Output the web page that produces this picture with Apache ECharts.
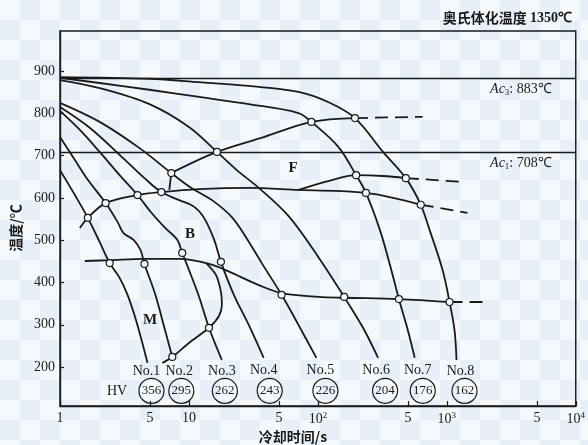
<!DOCTYPE html>
<html lang="zh-CN">
<head>
<meta charset="utf-8">
<title>CCT</title>
<script src="https://cdn.jsdelivr.net/npm/echarts@6.0.0/dist/echarts.min.js"></script>
<style>
  html, body { margin: 0; padding: 0; }
  body {
    width: 588px; height: 445px; overflow: hidden;
    background-color: #f5f9fc;
    background-image: conic-gradient(#e7eff8 25%, transparent 0 50%, #e7eff8 0 75%, transparent 0);
    background-size: 40px 40px;
  }
  #chart { width: 588px; height: 445px; }
</style>
</head>
<body>
<div id="chart"></div>
<script>
// Continuous cooling curves, each point is [time / s, temperature / °C]
const no1 = [[1,666],[1.305,607],[1.644,553],[2.03,496],[2.43,446],[2.90,411],[3.34,371],[3.78,323],[4.29,264],[4.77,210]];
const no2 = [[1,744],[1.305,690],[1.644,643],[2.26,588],[2.80,543],[3.11,517],[3.72,501],[4.21,477],[4.52,444],[5.49,371],[6.45,293],[7.43,224]];
const no3 = [[1,806],[1.426,761],[2.03,709],[2.90,654],[3.99,607],[5.12,565],[6.45,531],[8.12,501],[8.87,470],[10.0,430],[12.0,366],[14.3,293],[18.0,217]];
const no4 = [[1,815],[1.70,766],[2.90,702],[4.52,647],[6.11,614],[8.41,595],[11.0,579],[13.1,553],[15.7,501],[17.7,449],[22.3,371],[29.1,300],[38.0,222]];
const no5 = [[1,825],[2.03,780],[4.14,718],[7.30,659],[10.4,624],[15.1,595],[21.5,555],[27.6,508],[36.7,446],[52.3,371],[70.7,300],[97.4,222]];
const no6 = [[1,879],[2.03,860],[4.94,822],[10.0,768],[16.5,709],[23.5,666],[34.8,624],[59.3,557],[101,460],[160,366],[224,293],[293,222]];
const no7 = [[1,884],[2.03,872],[4.94,856],[12.0,839],[29.1,822],[70.7,801],[89.1,780],[144,721],[198,654],[236,612],[303,524],[362,442],[425,361],[498,288],[564,222]];
const no8 = [[1,886],[4.94,882],[12.0,874],[29.1,865],[70.7,851],[120,827],[194,789],[320,709],[481,647],[628,584],[736,524],[927,430],[1050,354],[1147,288],[1189,217]];

// Transformation lines
const ferriteRise = [[7.04,619],[7.30,659]];
const ferriteStart = [[7.30,659],[16.5,709],[38.0,744],[89.1,780],[194,789]];
const ferriteTail = [[194,789],[650,792]];
const pearliteLine = [[1.426,529],[1.644,553],[2.26,588],[3.99,607],[6.11,614],[12.0,621],[29.1,624],[70.7,619],[236,612],[628,584]];
const pearliteTail = [[628,584],[1445,565]];
const pearliteUpper = [[70.7,619],[120,640],[198,654],[320,652],[481,647]];
const pearliteUpperTail = [[481,647],[1322,638]];
const bainiteLine = [[1.558,451],[2.43,453],[4.52,456],[8.41,456],[14.3,444],[21.5,423],[34.8,394],[52.3,375],[101,366],[160,364],[425,361],[1050,354]];
const bainiteTail = [[1050,354],[2135,354]];
const martensiteLine = [[13.6,446],[16.2,418],[17.7,378],[18.0,347],[17.1,321],[14.3,293],[10.0,257],[7.43,224],[6.22,210]];

// Measured transformation points
const transitionPoints = [
  [7.30,659],[16.5,709],[89.1,780],[194,789],
  [1.644,553],[2.26,588],[3.99,607],[6.11,614],[198,654],[481,647],[236,612],[628,584],
  [2.43,446],[4.52,444],[8.87,470],[17.7,449],[52.3,371],[160,366],[425,361],[1050,354],
  [14.3,293],[7.43,224]
];

const sampleNames = ['No.1','No.2','No.3','No.4','No.5','No.6','No.7','No.8'];
const hardnessHV = [356, 295, 262, 243, 226, 204, 176, 162];
const ac3Temp = 883;
const ac1Temp = 708;
const austenitizingTemp = 1350;
const xTickValues = [1, 5, 10, 50, 100, 500, 1000, 5000, 10000];
const yTickValues = [200, 300, 400, 500, 600, 700, 800, 900];

const INK = '#1a1a1a';
const SERIF = '"Liberation Serif","Times New Roman",serif';
const CJK = '"Noto Sans CJK SC","Noto Sans CJK JP",sans-serif';

const chart = echarts.init(document.getElementById('chart'), null, { renderer: 'canvas' });

function line(data, opts) {
  return Object.assign({
    type: 'line', data: data, showSymbol: false, symbol: 'none',
    smooth: 0.35, silent: true, animation: false, z: 3,
    lineStyle: { color: INK, width: 1.8 }
  }, opts || {});
}
function dashed(data) {
  return line(data, { smooth: false, lineStyle: { color: INK, width: 1.8, type: [13, 7] } });
}

function timeLabel(v) {
  const e = Math.floor(Math.log10(v) + 1e-9);
  const m = Math.round(v / Math.pow(10, e));
  if (m === 1) return e <= 1 ? String(Math.round(v)) : '10{sup|' + e + '}';
  return String(m);
}

const coolingCurves = [no1, no2, no3, no4, no5, no6, no7, no8];

const acRich = {
  it: { fontFamily: SERIF, fontStyle: 'italic', fontSize: 14, color: INK },
  sub: { fontFamily: SERIF, fontSize: 9, color: INK, padding: [7, 0, 0, 0] },
  n: { fontFamily: SERIF, fontSize: 14, color: INK }
};

const series = coolingCurves.map(c => line(c));
series[7].markLine = {
  silent: true, symbol: ['none', 'none'], animation: false,
  lineStyle: { color: INK, width: 1.4, type: 'solid' },
  label: { show: true, position: 'insideEndBottom', distance: 3, padding: [0, 21, 0, 0], rich: acRich },
  data: [
    { yAxis: ac3Temp, label: { formatter: '{it|Ac}{sub|3}{n|: ' + ac3Temp + '℃}' } },
    { yAxis: ac1Temp, label: { formatter: '{it|Ac}{sub|1}{n|: ' + ac1Temp + '℃}' } }
  ]
};
series.push(
  line(ferriteRise, { smooth: false }),
  line(ferriteStart),
  dashed(ferriteTail),
  line(pearliteLine),
  dashed(pearliteTail),
  line(pearliteUpper),
  dashed(pearliteUpperTail),
  line(bainiteLine),
  dashed(bainiteTail),
  line(martensiteLine, { smooth: 0.3 }),
  {
    type: 'scatter', data: transitionPoints, symbol: 'circle', symbolSize: 7,
    silent: true, animation: false, z: 5,
    itemStyle: { color: '#f6f9fc', borderColor: INK, borderWidth: 1.2, opacity: 1 }
  }
);

chart.setOption({
  animation: false,
  grid: { left: 60, right: 9, top: 31, bottom: 39, show: true, borderColor: INK, borderWidth: 1.4, backgroundColor: 'transparent' },
  xAxis: {
    type: 'log', logBase: 10, min: 1, max: 10000,
    axisLine: { show: true, lineStyle: { color: INK, width: 1.4 } },
    axisTick: { show: true, inside: true, length: 5, customValues: xTickValues, lineStyle: { color: INK, width: 1.2 } },
    axisLabel: {
      show: true, customValues: xTickValues, formatter: timeLabel, margin: 5,
      color: INK, fontFamily: SERIF, fontSize: 14,
      rich: { sup: { fontFamily: SERIF, fontSize: 9, color: INK, padding: [0, 0, 8, 0] } }
    },
    splitLine: { show: false }, minorTick: { show: false }
  },
  yAxis: {
    type: 'value', min: 108, max: 995,
    axisLine: { show: true, lineStyle: { color: INK, width: 1.4 } },
    axisTick: { show: true, inside: true, length: 4, customValues: yTickValues, lineStyle: { color: INK, width: 1.2 } },
    axisLabel: { show: true, customValues: yTickValues, margin: 5, color: INK, fontFamily: SERIF, fontSize: 14 },
    splitLine: { show: false }
  },
  series: series
});

// Annotations: sample tags and hardness rings under each curve end
const tagShift = [[-1, 8], [7, 14], [0, 11], [0, 13], [4, 13], [-2, 13], [3, 13], [4, 11]];
const ringShift = [[4, 28], [9, 34], [3, 31], [6, 33], [9, 33], [7, 33], [8, 33], [8, 31]];
const textStyle = (t, size, extra) => Object.assign({
  text: t, fill: INK, font: size + 'px ' + SERIF, align: 'center', verticalAlign: 'middle'
}, extra || {});

const graphics = [
  { type: 'text', x: 572, y: 18, z: 10,
    style: { text: '{c|奥氏体化温度} {n|' + austenitizingTemp + '℃}', align: 'right', verticalAlign: 'middle',
      rich: { c: { fontFamily: CJK, fontWeight: 'bold', fontSize: 14, fill: INK },
              n: { fontFamily: SERIF, fontWeight: 'bold', fontSize: 14, fill: INK } } } },
  { type: 'text', x: 293, y: 437, z: 10,
    style: { text: '冷却时间/s', fill: INK, fontFamily: CJK, fontWeight: 'bold', fontSize: 14, align: 'center', verticalAlign: 'middle' } },
  { type: 'text', x: 16, y: 228, rotation: Math.PI / 2, z: 10,
    style: { text: '温度/℃', fill: INK, fontFamily: CJK, fontWeight: 'bold', fontSize: 14, align: 'center', verticalAlign: 'middle' } },
  { type: 'text', x: 293, y: 168, z: 10, style: textStyle('F', 15, { font: 'bold 15px ' + SERIF }) },
  { type: 'text', x: 190, y: 234, z: 10, style: textStyle('B', 15, { font: 'bold 15px ' + SERIF }) },
  { type: 'text', x: 150, y: 320, z: 10, style: textStyle('M', 15, { font: 'bold 15px ' + SERIF }) },
  { type: 'text', x: 117, y: 391, z: 10, style: textStyle('HV', 14) }
];

coolingCurves.forEach((c, i) => {
  const p = chart.convertToPixel({ gridIndex: 0 }, c[c.length - 1]);
  graphics.push({ type: 'text', x: p[0] + tagShift[i][0], y: p[1] + tagShift[i][1], z: 10,
    style: textStyle(sampleNames[i], 14) });
  const cx = p[0] + ringShift[i][0], cy = p[1] + ringShift[i][1];
  graphics.push({ type: 'circle', shape: { cx: cx, cy: cy, r: 12.5 }, z: 10,
    style: { fill: 'none', stroke: INK, lineWidth: 1.2 } });
  graphics.push({ type: 'text', x: cx, y: cy, z: 10, style: textStyle(String(hardnessHV[i]), 13) });
});

chart.setOption({ graphic: graphics });
</script>
</body>
</html>
